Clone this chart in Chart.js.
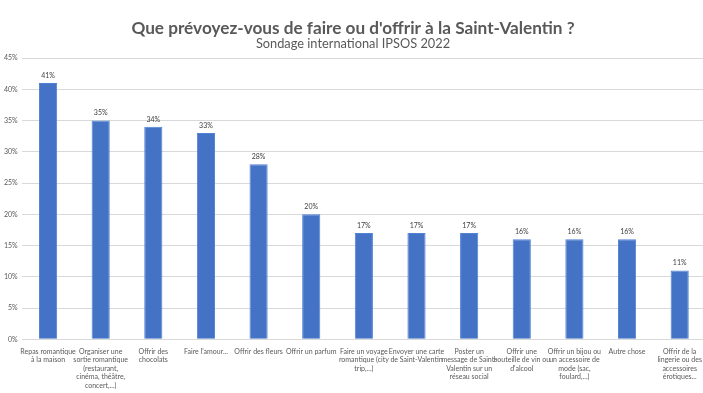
<!DOCTYPE html>
<html>
<head>
<meta charset="utf-8">
<script src="https://cdn.jsdelivr.net/npm/chart.js@4"></script>
<style>
  html, body { margin: 0; padding: 0; overflow: hidden; background: #fff; }
  #wrap { width: 706px; height: 393px; }
</style>
</head>
<body>
<div id="wrap"><canvas id="myChart"></canvas></div>
<script>
const categories = [
  ["Repas romantique", "à la maison"],
  ["Organiser une", "sortie romantique", "(restaurant,", "cinéma, théâtre,", "concert,...)"],
  ["Offrir des", "chocolats"],
  ["Faire l'amour..."],
  ["Offrir des fleurs"],
  ["Offrir un parfum"],
  ["Faire un voyage", "romantique (city", "trip,...)"],
  ["Envoyer une carte", "de Saint-Valentin"],
  ["Poster un", "message de Saint-", "Valentin sur un", "réseau social"],
  ["Offrir une", "bouteille de vin ou", "d'alcool"],
  ["Offrir un bijou ou", "un accessoire de", "mode (sac,", "foulard,...)"],
  ["Autre chose"],
  ["Offrir de la", "lingerie ou des", "accessoires", "érotiques..."]
];
const percents = [41, 35, 34, 33, 28, 20, 17, 17, 17, 16, 16, 16, 11];
const yMax = 45;
const yStep = 5;

// little plugin to write the value on top of each bar
const barValues = {
  id: "barValues",
  afterDatasetsDraw(chart) {
    const ctx = chart.ctx;
    const meta = chart.getDatasetMeta(0);
    ctx.save();
    ctx.font = "7px Lato";
    ctx.fillStyle = "#404040";
    ctx.textAlign = "center";
    ctx.textBaseline = "bottom";
    meta.data.forEach((bar, i) => {
      ctx.fillText(percents[i] + "%", bar.x, bar.y - 4);
    });
    ctx.restore();
  }
};

const ctx = document.getElementById("myChart");

new Chart(ctx, {
  type: "bar",
  data: {
    labels: categories,
    datasets: [
      {
        label: "Saint-Valentin",
        data: percents,
        backgroundColor: "#4472C4",
        borderColor: "#5282D6",
        borderWidth: { left: 1, right: 1, top: 1, bottom: 0 },
        barPercentage: 0.345,
        categoryPercentage: 1,
      },
    ],
  },
  plugins: [barValues],
  options: {
    responsive: true,
    maintainAspectRatio: false,
    animation: false,
    layout: { padding: { left: 0, right: 0, top: 0, bottom: 3 } },
    plugins: {
      legend: { display: false },
      tooltip: { enabled: false },
      title: {
        display: true,
        text: "Que prévoyez-vous de faire ou d'offrir à la Saint-Valentin ?",
        color: "#595959",
        font: { family: "Lato", size: 17.2, weight: "bold" },
        padding: { top: 18, bottom: -2 },
      },
      subtitle: {
        display: true,
        text: "Sondage international IPSOS 2022",
        color: "#595959",
        font: { family: "Lato", size: 12.8 },
        padding: { top: 0, bottom: 6 },
      },
    },
    scales: {
      x: {
        grid: { display: false },
        border: { display: false },
        ticks: {
          autoSkip: false,
          maxRotation: 0,
          minRotation: 0,
          padding: 0,
          color: "#595959",
          font: { family: "Lato", size: 7, lineHeight: 1.22 },
        },
      },
      y: {
        min: 0,
        max: yMax,
        grid: { color: "#D9D9D9", drawTicks: false },
        border: { display: false },
        ticks: {
          stepSize: yStep,
          padding: 4,
          color: "#595959",
          font: { family: "Lato", size: 7 },
          callback: (v) => v + "%",
        },
      },
    },
  },
});
</script>
</body>
</html>
